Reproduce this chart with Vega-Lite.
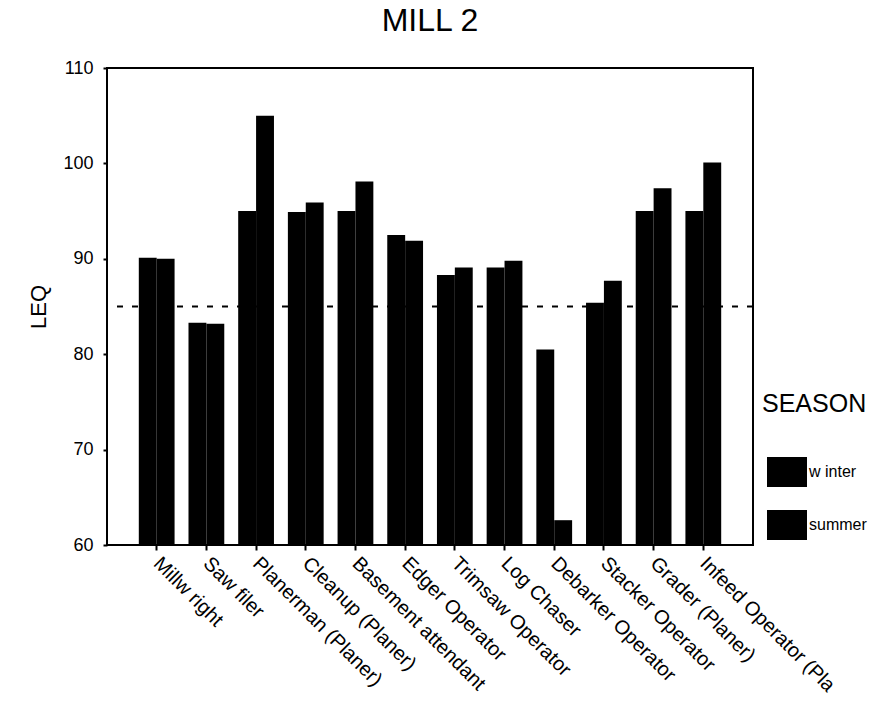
{
  "$schema": "https://vega.github.io/schema/vega-lite/v6.json",
  "autosize": {"type": "none"},
  "width": 646,
  "height": 477,
  "padding": {"left": 107, "top": 68, "right": 141, "bottom": 163},
  "background": "white",
  "config": {
    "font": "Liberation Sans",
    "view": {"stroke": "black", "strokeWidth": 2}
  },
  "title": {"text": "MILL 2", "fontSize": 32, "fontWeight": "normal", "color": "black", "offset": 21, "anchor": "middle"},
  "datasets": {
    "bars": [
      {"job": "Millw right", "season": "w inter", "leq": 90.1},
      {"job": "Millw right", "season": "summer", "leq": 90.0},
      {"job": "Saw filer", "season": "w inter", "leq": 83.3},
      {"job": "Saw filer", "season": "summer", "leq": 83.2},
      {"job": "Planerman (Planer)", "season": "w inter", "leq": 95.0},
      {"job": "Planerman (Planer)", "season": "summer", "leq": 105.0},
      {"job": "Cleanup (Planer)", "season": "w inter", "leq": 94.9},
      {"job": "Cleanup (Planer)", "season": "summer", "leq": 95.9},
      {"job": "Basement attendant", "season": "w inter", "leq": 95.0},
      {"job": "Basement attendant", "season": "summer", "leq": 98.1},
      {"job": "Edger Operator", "season": "w inter", "leq": 92.5},
      {"job": "Edger Operator", "season": "summer", "leq": 91.9},
      {"job": "Trimsaw Operator", "season": "w inter", "leq": 88.3},
      {"job": "Trimsaw Operator", "season": "summer", "leq": 89.1},
      {"job": "Log Chaser", "season": "w inter", "leq": 89.1},
      {"job": "Log Chaser", "season": "summer", "leq": 89.8},
      {"job": "Debarker Operator", "season": "w inter", "leq": 80.5},
      {"job": "Debarker Operator", "season": "summer", "leq": 62.6},
      {"job": "Stacker Operator", "season": "w inter", "leq": 85.4},
      {"job": "Stacker Operator", "season": "summer", "leq": 87.7},
      {"job": "Grader (Planer)", "season": "w inter", "leq": 95.0},
      {"job": "Grader (Planer)", "season": "summer", "leq": 97.4},
      {"job": "Infeed Operator (Pla", "season": "w inter", "leq": 95.0},
      {"job": "Infeed Operator (Pla", "season": "summer", "leq": 100.1}
    ],
    "limit": [{"leq": 85}]
  },
  "layer": [
    {
      "data": {"name": "bars"},
      "mark": {"type": "bar", "color": "black"},
      "encoding": {
        "x": {
          "field": "job", "type": "nominal", "sort": null,
          "scale": {"paddingInner": 0.28, "paddingOuter": 0.64},
          "axis": {
            "title": null, "labelAngle": 45, "labelAlign": "left", "labelBaseline": "middle",
            "labelFontSize": 20, "labelColor": "black", "labelPadding": 10, "labelLimit": 400,
            "tickColor": "black", "tickSize": 5, "tickWidth": 2, "domain": false
          }
        },
        "xOffset": {"field": "season", "type": "nominal", "sort": ["w inter", "summer"]},
        "y": {
          "field": "leq", "type": "quantitative",
          "scale": {"domain": [60, 110], "zero": false, "clamp": true},
          "axis": {
            "title": "LEQ", "titleFontSize": 22, "titleFontWeight": "normal", "titleColor": "black", "titlePadding": 12,
            "values": [60, 70, 80, 90, 100, 110], "labelFontSize": 18, "labelColor": "black",
            "tickColor": "black", "tickSize": 4, "tickWidth": 2, "domain": false, "grid": false, "labelPadding": 10
          }
        },
        "color": {
          "field": "season", "type": "nominal", "sort": ["w inter", "summer"],
          "scale": {"domain": ["w inter", "summer"], "range": ["black", "black"]},
          "legend": {
            "title": "SEASON", "titleFontSize": 25, "titleFontWeight": "normal", "titleColor": "black", "titlePadding": 35,
            "orient": "none", "legendX": 655, "legendY": 324,
            "symbolType": "M-1,-0.75L1,-0.75L1,0.75L-1,0.75Z", "symbolSize": 1600,
            "symbolFillColor": "black", "symbolStrokeWidth": 0, "symbolOffset": 5,
            "labelFontSize": 16, "labelColor": "black", "labelOffset": 2, "rowPadding": 18
          }
        }
      }
    },
    {
      "data": {"name": "limit"},
      "mark": {"type": "rule", "color": "black", "strokeWidth": 2, "strokeDash": [6, 9]},
      "encoding": {"y": {"field": "leq", "type": "quantitative"}}
    }
  ]
}
